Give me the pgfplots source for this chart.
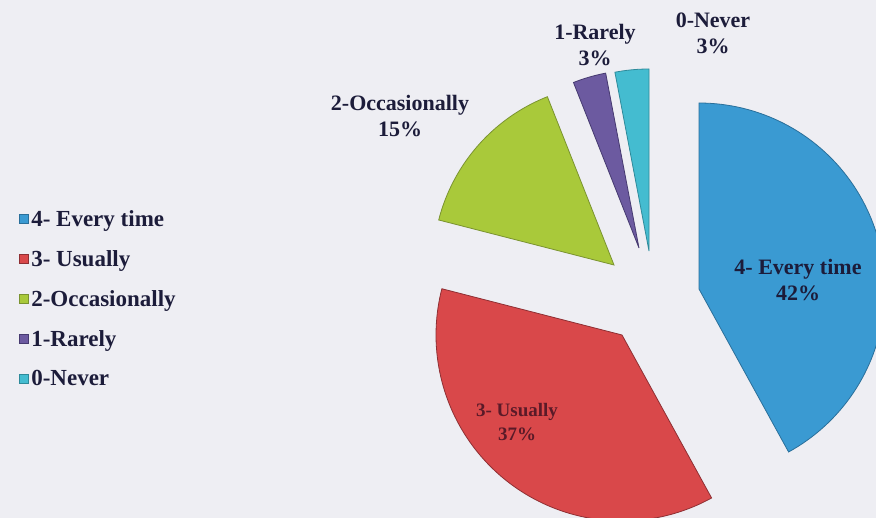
\documentclass[border=0pt]{standalone}
\usepackage{pgfplots}
\pgfplotsset{compat=1.18}
\usepackage{fontspec}
\setmainfont{Liberation Serif}
\definecolor{bgc}{HTML}{EEEEF3}
\definecolor{cBlue}{HTML}{3A9AD2}
\definecolor{cBlueD}{HTML}{2A6F9A}
\definecolor{cRed}{HTML}{D9484A}
\definecolor{cRedD}{HTML}{8E2F33}
\definecolor{cGreen}{HTML}{A9C93A}
\definecolor{cGreenD}{HTML}{7A9330}
\definecolor{cPurple}{HTML}{6C5AA0}
\definecolor{cPurpleD}{HTML}{463A70}
\definecolor{cCyan}{HTML}{44BCD0}
\definecolor{cCyanD}{HTML}{2E8A9A}
\definecolor{txt}{HTML}{1C1C3A}
\definecolor{txtred}{HTML}{5A1A28}
\tikzset{lbl/.style={font=\fontsize{22}{26}\selectfont\bfseries, text=txt, align=center}}
\begin{document}
\begin{tikzpicture}
\fill[bgc] (0,0) rectangle (876pt,518pt);
\begin{axis}[
  width=876pt, height=518pt, scale only axis,
  xmin=0, xmax=876, ymin=0, ymax=518,
  axis lines=none, ticks=none, clip=true,
  legend cell align=left,
  legend image code/.code={\fill[#1] (0pt,-4.5pt) rectangle (9pt,4.5pt);},
  legend style={draw=none, fill=none, at={(0.022,0.598)}, anchor=north west,
    font=\fontsize{23}{24}\selectfont\bfseries, text=txt, row sep=18.5pt,
    inner sep=0pt, /tikz/every even column/.append style={column sep=5pt}},
]
% values: 4-Every time 42, 3-Usually 37, 2-Occasionally 15, 1-Rarely 3, 0-Never 3 (percent; 3.6 deg per percent)
\addplot[fill=cBlue, draw=cBlueD, line width=0.8pt, domain=-61.2:90, samples=90, variable=\t]
  ({699+186*cos(\t)}, {229+186*sin(\t)}) -- (axis cs:699,229) -- cycle;
\addlegendentry{4- Every time}
\addplot[fill=cRed, draw=cRedD, line width=0.8pt, domain=165.6:298.8, samples=90, variable=\t]
  ({622+186*cos(\t)}, {183+186*sin(\t)}) -- (axis cs:622,183) -- cycle;
\addlegendentry{3- Usually}
\addplot[fill=cGreen, draw=cGreenD, line width=0.8pt, domain=111.6:165.6, samples=40, variable=\t]
  ({614+181*cos(\t)}, {253+181*sin(\t)}) -- (axis cs:614,253) -- cycle;
\addlegendentry{2-Occasionally}
\addplot[fill=cPurple, draw=cPurpleD, line width=0.8pt, domain=100.8:111.6, samples=10, variable=\t]
  ({639+178*cos(\t)}, {270+178*sin(\t)}) -- (axis cs:639,270) -- cycle;
\addlegendentry{1-Rarely}
\addplot[fill=cCyan, draw=cCyanD, line width=0.8pt, domain=90:100.8, samples=10, variable=\t]
  ({649+182*cos(\t)}, {267+182*sin(\t)}) -- (axis cs:649,267) -- cycle;
\addlegendentry{0-Never}
\node[lbl] at (axis cs:798,238) {4- Every time\\42\%};
\node[lbl, text=txtred, font=\fontsize{19}{24}\selectfont\bfseries] at (axis cs:517,96) {3- Usually\\37\%};
\node[lbl] at (axis cs:400,402) {2-Occasionally\\15\%};
\node[lbl] at (axis cs:595,473) {1-Rarely\\3\%};
\node[lbl] at (axis cs:713,485) {0-Never\\3\%};
\end{axis}
\end{tikzpicture}
\end{document}
